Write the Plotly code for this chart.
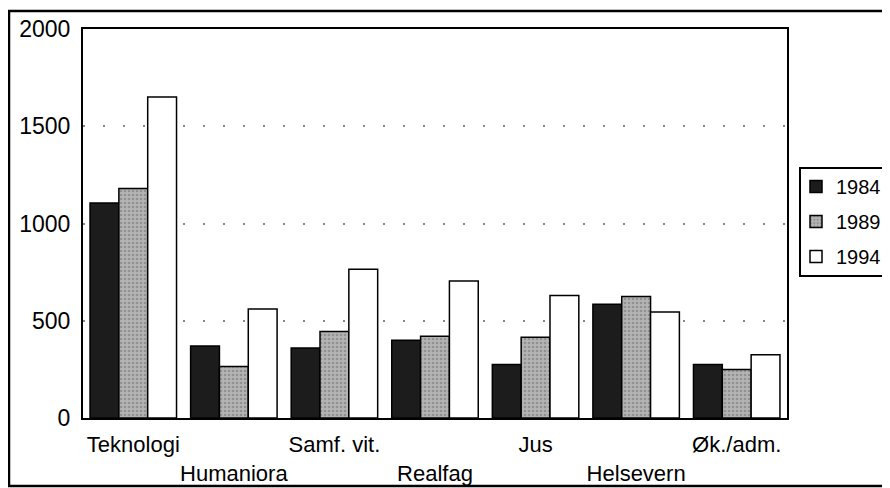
import plotly.graph_objects as go

categories = ["Teknologi", "Humaniora", "Samf. vit.", "Realfag", "Jus", "Helsevern", "Øk./adm."]
years = ["1984", "1989", "1994"]
v1984 = [1105, 370, 360, 400, 275, 585, 275]
v1989 = [1180, 265, 445, 420, 415, 625, 250]
v1994 = [1650, 560, 765, 705, 630, 545, 325]
y_ticks = [0, 500, 1000, 1500, 2000]

# alternate labels on two rows, like the original
tick_text = [c if i % 2 == 0 else "<br>" + c for i, c in enumerate(categories)]

fig = go.Figure()
fig.add_trace(go.Bar(name=years[0], x=categories, y=v1984, legendgroup="a",
                     marker=dict(color="#1c1c1c", line=dict(color="black", width=1.5))))
fig.add_trace(go.Bar(name=years[1], x=categories, y=v1989, legendgroup="b",
                     marker=dict(color="#a8a8a8", line=dict(color="black", width=1.5),
                                 pattern=dict(shape=".", fgcolor="#6e6e6e", bgcolor="#b4b4b4",
                                              size=4, solidity=0.35))))
fig.add_trace(go.Bar(name=years[2], x=categories, y=v1994, legendgroup="c",
                     marker=dict(color="white", line=dict(color="black", width=1.5))))

# the page body has an 8px margin, so work in page pixels minus 8
OFF = 8
W, H = 890 - OFF, 488 - OFF
L, T = 83 - OFF, 29 - OFF
R, B = W - (787 - OFF), H - (418 - OFF)
pw, ph = W - L - R, H - T - B

def px(x):
    return (x - OFF - L) / pw

def py(y):
    return (H - B - (y - OFF)) / ph

# outer frame of the scanned figure
fig.add_shape(type="rect", xref="paper", yref="paper",
              x0=px(9), x1=px(889), y0=py(486), y1=py(11),
              line=dict(color="black", width=2.5), layer="below")
# legend box
fig.add_shape(type="rect", xref="paper", yref="paper",
              x0=px(800), x1=px(895), y0=py(276), y1=py(168),
              line=dict(color="black", width=2), fillcolor="white", layer="below")

fig.update_layout(
    width=W, height=H,
    margin=dict(l=L, r=R, t=T, b=B, autoexpand=False),
    paper_bgcolor="white", plot_bgcolor="white",
    barmode="group", bargap=0.14, bargroupgap=0,
    font=dict(family="Liberation Sans, Arial, sans-serif", size=23, color="black"),
    showlegend=True,
    legend=dict(x=px(796), y=py(167), xanchor="left", yanchor="top",
                borderwidth=0, bgcolor="rgba(0,0,0,0)", traceorder="grouped",
                font=dict(size=20), itemwidth=30, tracegroupgap=6),
)
fig.update_xaxes(tickmode="array", tickvals=categories, ticktext=tick_text,
                 tickangle=0, automargin=False, ticklabelstandoff=6,
                 tickfont=dict(size=22),
                 showline=True, linecolor="black", linewidth=2, mirror=True,
                 ticks="", showgrid=False)
fig.update_yaxes(range=[0, 2000], tickvals=y_ticks, automargin=False,
                 showline=True, linecolor="black", linewidth=2, mirror=True,
                 ticks="", ticklabelstandoff=6,
                 showgrid=True, gridcolor="#888888", gridwidth=1.5, griddash="2px,18px",
                 zeroline=False)

fig.write_html("out.html")
